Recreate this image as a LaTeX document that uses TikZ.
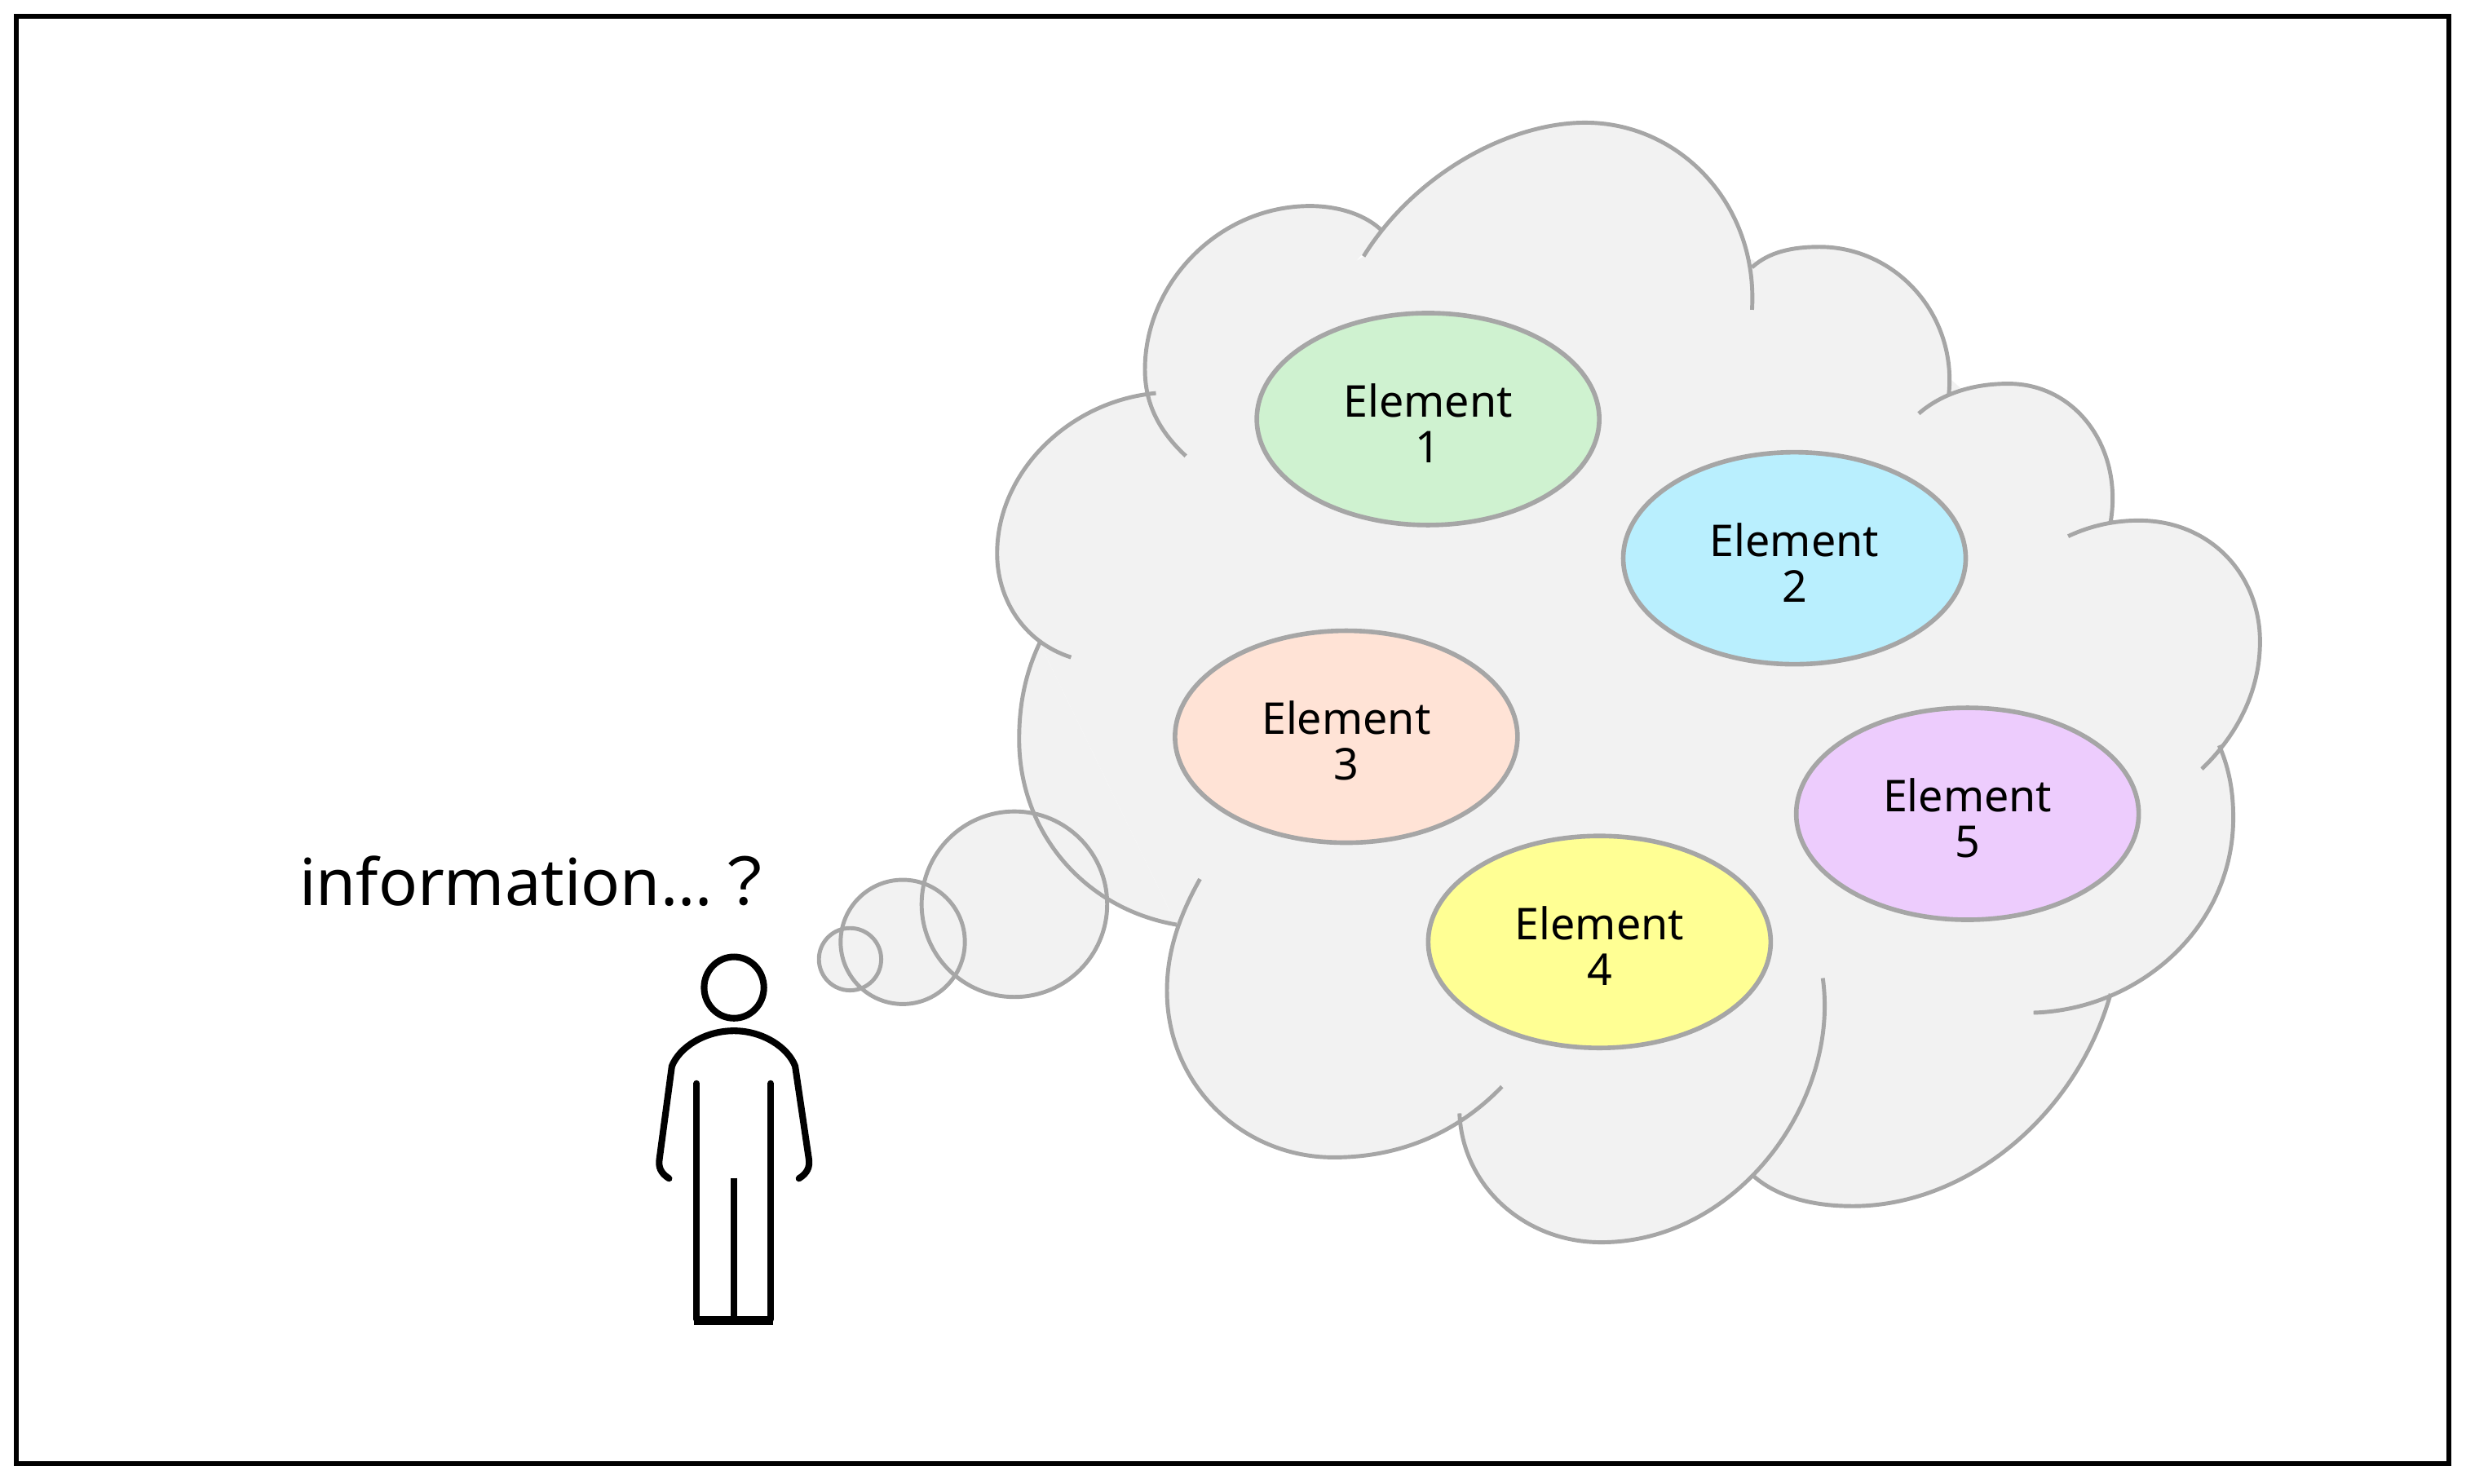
\documentclass[tikz,border=0pt]{standalone}
\usepackage{xcolor}
\usepackage{fontspec}
\setmainfont{Noto Sans}
\newfontfamily\jpfont{Noto Sans CJK JP}
\usetikzlibrary{shapes.geometric}
\definecolor{cloudgray}{HTML}{F2F2F2}
\definecolor{linegray}{HTML}{A6A6A6}
\definecolor{elemgreen}{HTML}{CFF2D0}
\definecolor{elemblue}{HTML}{B9EFFE}
\definecolor{elempeach}{HTML}{FFE3D6}
\definecolor{elemyellow}{HTML}{FFFF94}
\definecolor{elempurple}{HTML}{EDCCFD}
\newcommand{\elemlabel}[1]{\rule{0pt}{14.5pt}Element\\#1}

\begin{document}
\begin{tikzpicture}[x=0.0192857cm,y=-0.0192857cm,
  elem/.style={ellipse,draw=linegray,line width=1.6pt,minimum width=4.2cm,minimum height=2.6cm,
    inner sep=0pt,align=center,font=\fontsize{15.3}{15.9}\selectfont},
  cloudline/.style={draw=linegray,line width=1.4pt,fill=cloudgray},
  bubbleline/.style={draw=linegray,line width=1.4pt},
  figline/.style={draw=black,line width=2.3pt,line cap=round}]
  \useasboundingbox (0,0) rectangle (1568,943.2);

  % Frame
  \draw[black,line width=1.7pt] (10.4,10.4) rectangle (1557,930.5);

  % Bubbles (fill)
  \fill[cloudgray] (645,575) circle[radius=59];
  \fill[cloudgray] (574,599) circle[radius=39.5];
  \fill[cloudgray] (540.5,610) circle[radius=19.8];

  % Cloud body
  \fill[cloudgray] (867,163)--(879,147)--(1114,165)--(1239,240)--(1342,332)--(1406,482)--(1340,636)
    --(1114,747)--(928,708)--(748,588)--(661,409)--(731,250)--cycle;

  % Cloud lobes
  \path[cloudline]
    (867,163) .. controls (900,110) and (960,78) .. (1008,78)
      .. controls (1068,78) and (1118,130) .. (1114,197)
    (1114,170) .. controls (1125,160) and (1140,157) .. (1157,157)
      .. controls (1205,157) and (1245,200) .. (1239,252)
    (1220,263) .. controls (1235,250) and (1255,244) .. (1277,244)
      .. controls (1320,244) and (1350,285) .. (1342,332)
    (1315,341) .. controls (1330,334) and (1345,331) .. (1360,331)
      .. controls (1405,331) and (1437,365) .. (1437,408)
      .. controls (1437,440) and (1422,468) .. (1400,489)
    (1411,474) .. controls (1418,490) and (1420,505) .. (1420,520)
      .. controls (1420,590) and (1360,642) .. (1293,644)
    (1342,632) .. controls (1320,710) and (1250,767) .. (1178,767)
      .. controls (1150,767) and (1128,760) .. (1114,747)
    (1159,622) .. controls (1170,700) and (1105,790) .. (1018,790)
      .. controls (970,790) and (930,755) .. (928,708)
    (955,691) .. controls (925,722) and (888,736) .. (848,736)
      .. controls (790,736) and (742,690) .. (742,630)
      .. controls (742,605) and (750,582) .. (763,559)
    (748,588) .. controls (690,578) and (648,530) .. (648,470)
      .. controls (648,448) and (652,428) .. (661,409)
    (735,250) .. controls (680,255) and (634,300) .. (634,352)
      .. controls (634,380) and (650,408) .. (681,418)
    (754,290) .. controls (738,275) and (728,258) .. (728,235)
      .. controls (728,180) and (775,131) .. (833,131)
      .. controls (850,131) and (868,136) .. (879,147);

  % Bubbles (outline)
  \draw[bubbleline] (645,575) circle[radius=59];
  \draw[bubbleline] (574,599) circle[radius=39.5];
  \draw[bubbleline] (540.5,610) circle[radius=19.8];

  % Elements
  \node[elem,fill=elemgreen]  (elemA) at (908,266.5) {\elemlabel{1}};
  \node[elem,fill=elemblue]   (elemB) at (1141,355)  {\elemlabel{2}};
  \node[elem,fill=elempeach]  (elemC) at (856,468.5) {\elemlabel{3}};
  \node[elem,fill=elemyellow] (elemD) at (1017,599)  {\elemlabel{4}};
  \node[elem,fill=elempurple] (elemE) at (1251,517.5){\elemlabel{5}};

  % Question
  \node[font=\fontsize{22.6}{26}\selectfont,anchor=base west,inner sep=0pt] (info) at (190,576)
    {information...{\jpfont ？}};

  % Person
  \draw[figline] (466.7,628) circle[x radius=19,y radius=19.5];
  \draw[figline] (425.4,749.4) .. controls (420,746) and (418.5,742) .. (419.3,737)
    -- (427.2,678) .. controls (432,666) and (448,655.5) .. (466.7,655.5)
    .. controls (485,655.5) and (501,666) .. (505.6,678)
    -- (514.3,737) .. controls (515,742) and (513.5,746) .. (508,749.4);
  \draw[figline] (443,689) -- (443,839);
  \draw[figline] (490,689) -- (490,839);
  \draw[figline,line cap=butt] (466.7,749) -- (466.7,839);
  \draw[figline,line cap=butt,line width=3.2pt] (441.5,839.6) -- (491.5,839.6);
\end{tikzpicture}
\end{document}
